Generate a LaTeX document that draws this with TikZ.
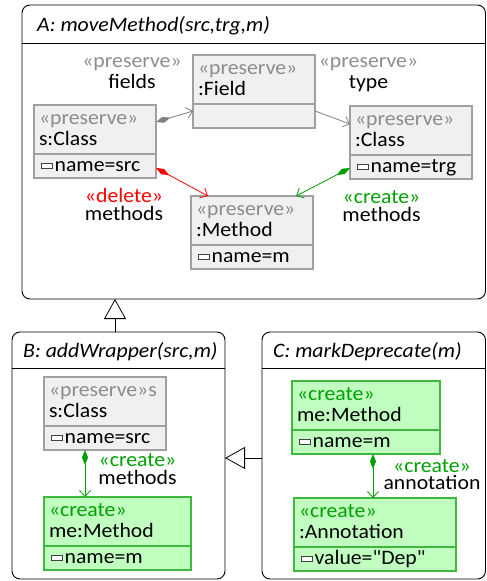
\documentclass[tikz,border=0pt]{standalone}
\usepackage{fontspec}
\setmainfont{Carlito}[FakeStretch=1.06, Ligatures=TeXOff]
\usetikzlibrary{arrows.meta}
\usetikzlibrary{positioning}
\definecolor{presfill}{HTML}{F0F0F0}
\definecolor{presline}{HTML}{A0A0A0}
\definecolor{creafill}{HTML}{C0FFC0}
\definecolor{crealine}{HTML}{40B840}
\definecolor{stgray}{HTML}{8C8C8C}
\definecolor{stgreen}{HTML}{00A000}
\definecolor{stred}{HTML}{FF0000}
\definecolor{icondark}{HTML}{404040}
\newcommand\ufont{\fontsize{20.5pt}{21pt}\selectfont}
\newcommand\ustrut{\rule[-5.5pt]{0pt}{21pt}}
\newcommand\lstrut{\rule[-3.5pt]{0pt}{17pt}}
\newcommand\stereo[2]{{\color{#1}«#2»}}
\newcommand\attricon{{\setlength{\fboxsep}{0pt}\setlength{\fboxrule}{0.8pt}\kern1.5pt\raisebox{3.5pt}{\fcolorbox{icondark}{white}{\rule{11pt}{0pt}\rule{0pt}{3.5pt}}}\kern1.5pt}}
\tikzset{
    head/.style={minimum height=49pt, inner xsep=5pt, inner ysep=0pt, outer sep=0pt, line width=1.2pt, align=left, font=\ufont, anchor=north west},
    attr/.style={minimum height=24pt, inner xsep=5pt, inner ysep=0pt, outer sep=0pt, line width=1.2pt, align=left, font=\ufont, below=0pt of #1},
    pres/.style={draw=presline, fill=presfill},
    crea/.style={draw=crealine, fill=creafill},
    frame/.style={draw, rounded corners=8pt, line width=0.9pt, inner sep=0pt, outer sep=0pt, anchor=north west},
    ttl/.style={font=\ufont\itshape, inner sep=0pt, anchor=base west},
    lbl/.style={font=\ufont, align=center, inner sep=0pt, anchor=north},
    assoc/.style={draw=#1, line width=0.8pt, {Diamond[length=15pt,width=6pt,fill=#1]}-{Straight Barb[length=6pt,width=11pt]}},
    ref/.style={draw=#1, line width=0.8pt, -{Straight Barb[length=6pt,width=11pt]}},
    inherit/.style={line width=0.8pt, -{Triangle[length=20pt,width=22pt,fill=white]}},
}
\begin{document}
\begin{tikzpicture}[x=1pt,y=-1pt]
\useasboundingbox (0,0) rectangle (487,581);
% frames
\node[frame, minimum width=463.5pt, minimum height=294pt] (fA) at (22,5) {};
\node[frame, minimum width=213pt, minimum height=247pt] (fB) at (12,332) {};
\node[frame, minimum width=223.5pt, minimum height=247pt] (fC) at (262,332) {};
\draw[line width=0.9pt] ([yshift=-38pt]fA.north west) -- ([yshift=-38pt]fA.north east);
\draw[line width=0.9pt] ([yshift=-36pt]fB.north west) -- ([yshift=-36pt]fB.north east);
\draw[line width=0.9pt] ([yshift=-36pt]fC.north west) -- ([yshift=-36pt]fC.north east);
\node[ttl] (tA) at (37,31) {A: moveMethod(src,trg,m)};
\node[ttl] (tB) at (23,357) {B: addWrapper(src,m)};
\node[ttl] (tC) at (273,357) {C: markDeprecate(m)};
% A
\node[head, pres, text width=112pt] (fld) at (193,55) {\ustrut\stereo{stgray}{preserve}\\\ustrut:Field};
\node[attr=fld, pres, text width=112pt] (flda) {\ustrut};
\node[head, pres, text width=112pt] (sc) at (34,105) {\ustrut\stereo{stgray}{preserve}\\\ustrut s:Class};
\node[attr=sc, pres, text width=112pt] (sca) {\ustrut\attricon name=src};
\node[head, pres, text width=112pt] (tc) at (350,106) {\ustrut\stereo{stgray}{preserve}\\\ustrut:Class};
\node[attr=tc, pres, text width=112pt] (tca) {\ustrut\attricon name=trg};
\node[head, pres, text width=112pt] (mth) at (191,196) {\ustrut\stereo{stgray}{preserve}\\\ustrut:Method};
\node[attr=mth, pres, text width=112pt] (mtha) {\ustrut\attricon name=m};
\node[lbl] (lf) at (132,51.5) {\ustrut\stereo{stgray}{preserve}\\\ustrut fields};
\node[lbl] (lt) at (368.5,51.5) {\ustrut\stereo{stgray}{preserve}\\\ustrut type};
\node[lbl] (ld) at (124,188.5) {\lstrut\stereo{stred}{delete}\\[-3pt]\lstrut methods};
\node[lbl] (lc) at (381.5,189.5) {\lstrut\stereo{stgreen}{create}\\[-3pt]\lstrut methods};
\draw[assoc=gray] ([yshift=7.5pt]sc.east) -- ([yshift=-7pt]fld.south west);
\draw[ref=gray] ([yshift=-7pt]fld.south east) -- ([yshift=6.5pt]tc.west);
\draw[assoc=stred] ([yshift=-2pt]sca.east) -- ([xshift=17pt]mth.north west);
\draw[assoc=stgreen] ([yshift=-1pt]tca.west) -- ([xshift=-17pt]mth.north east);
% B
\node[head, pres, text width=112pt] (bsc) at (44,377) {\ustrut\stereo{stgray}{preserve}{\color{stgray}s}\\\ustrut s:Class};
\node[attr=bsc, pres, text width=112pt] (bsca) {\ustrut\attricon name=src};
\node[head, crea, text width=137pt] (bme) at (44,497) {\ustrut\stereo{stgreen}{create}\\\ustrut me:Method};
\node[attr=bme, crea, text width=137pt] (bmea) {\ustrut\attricon name=m};
\node[lbl] (lb) at (137.5,453.2) {\lstrut\stereo{stgreen}{create}\\[-3pt]\lstrut methods};
\draw[assoc=stgreen] ([xshift=41pt]bsca.south west) -- ([xshift=41pt]bme.north west);
% C
\node[head, crea, text width=138pt] (cme) at (292,381) {\ustrut\stereo{stgreen}{create}\\\ustrut me:Method};
\node[attr=cme, crea, text width=138pt] (cmea) {\ustrut\attricon name=m};
\node[head, crea, text width=152pt] (can) at (294,498) {\ustrut\stereo{stgreen}{create}\\\ustrut:Annotation};
\node[attr=can, crea, text width=152pt] (cana) {\ustrut\attricon value="Dep"};
\node[lbl] (la) at (432,459.2) {\lstrut\stereo{stgreen}{create}\\[-4pt]\lstrut annotation};
\draw[assoc=stgreen] ([xshift=81pt]cmea.south west) -- ([xshift=79pt]can.north west);
% inheritance
\draw[inherit] ([xshift=-3.5pt]fB.north) -- ([xshift=-3.5pt]fB.north |- fA.south);
\draw[inherit] ([yshift=-126pt]fC.north west) coordinate (cb) -- (fB.east |- cb);
\end{tikzpicture}
\end{document}
